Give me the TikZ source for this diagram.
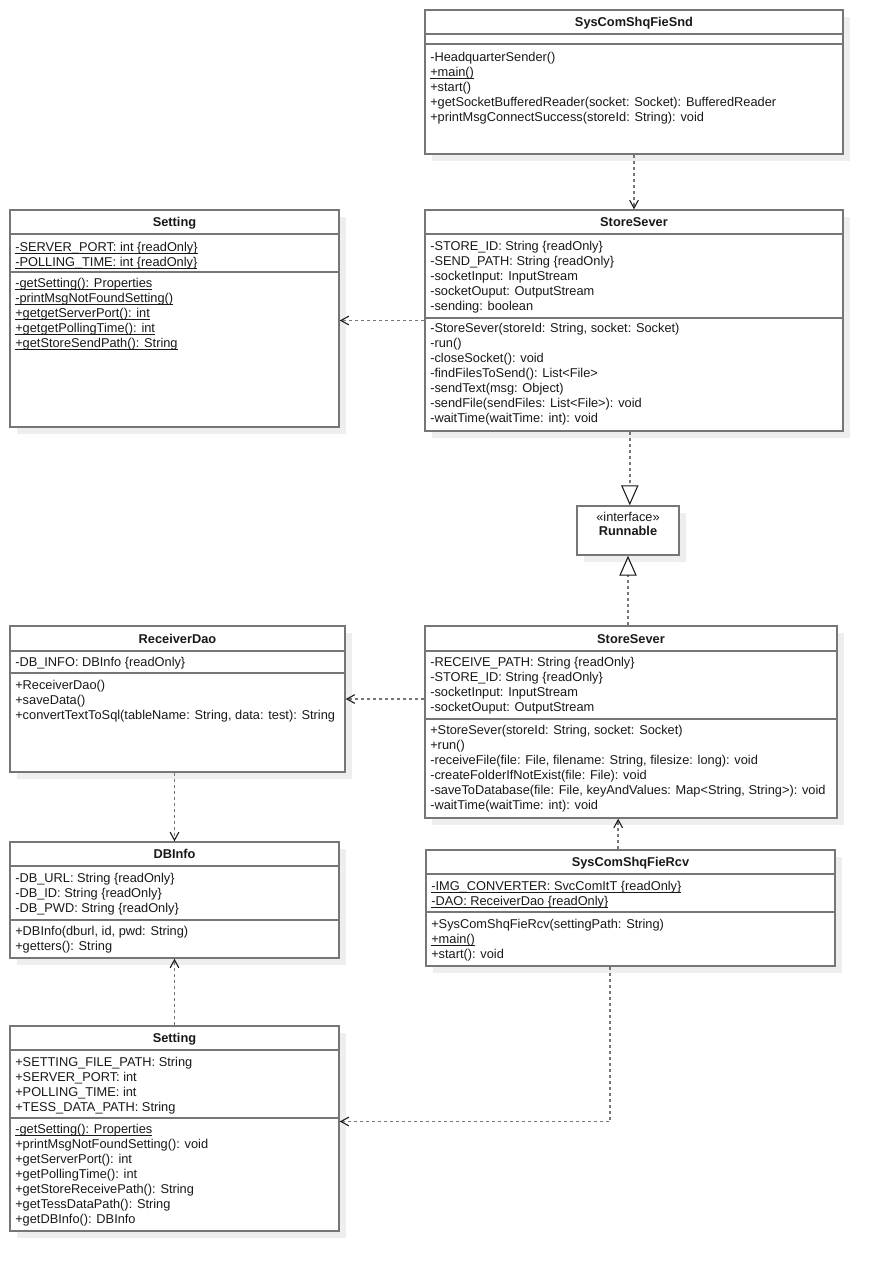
\documentclass[tikz,border=0pt]{standalone}
\usepackage{fontspec}
\setmainfont{Liberation Sans}
\usetikzlibrary{arrows.meta,fit,shadows,calc}

\definecolor{boxgray}{RGB}{118,118,118}
\definecolor{txtgray}{RGB}{25,25,25}
\definecolor{shadegray}{RGB}{238,238,238}

% static members are underlined just below the baseline
\newcommand\ulstatic[1]{\setbox0\hbox{#1}\rlap{\rule[-1.6pt]{\wd0}{0.55pt}}\box0}

\tikzset{
  classbox/.style={draw=boxgray, line width=1.1pt, fill=white, inner sep=0pt,
    drop shadow={shadow xshift=5.25pt, shadow yshift=-5.25pt, fill=shadegray, opacity=1}},
  sepline/.style={draw=boxgray, line width=1.1pt},
  classname/.style={font=\fontsize{9.6}{11.25}\selectfont\bfseries, text=txtgray, anchor=base, inner sep=0pt},
  stereo/.style={font=\fontsize{9.6}{11.25}\selectfont, text=txtgray, anchor=base, inner sep=0pt},
  members/.style={font=\fontsize{9.6}{11.25}\selectfont, text=txtgray, anchor=north west, align=left, inner sep=0pt},
  dep/.style={draw=boxgray, line width=1.1pt, dash pattern=on 2.25pt off 2.25pt,
    -{Straight Barb[length=6pt,width=6.5pt,line width=0.8pt,color=txtgray]}},
  realize/.style={draw=boxgray, line width=1.1pt, dash pattern=on 2.25pt off 2.25pt,
    -{Triangle[open,length=15pt,width=13pt,line width=0.8pt,color=txtgray]}},
}

\begin{document}
\begin{tikzpicture}[x=0.75pt,y=-0.75pt]
        \useasboundingbox (0,0) rectangle (884,1272);

        % Sender side
        \node[classbox, fit={(425,10) (843,154)}] (snd) {};
        \draw[sepline] (snd.west |- 0,34) -- (snd.east |- 0,34);
        \draw[sepline] (snd.west |- 0,44) -- (snd.east |- 0,44);
        \node[classname] (snd-t) at (634,26.6) {SysComShqFieSnd};
        \node[members] (snd-m) at (430,52.2) {-HeadquarterSender()\\\ulstatic{+main()}\\+start()\\+getSocketBufferedReader(socket: Socket): BufferedReader\\+printMsgConnectSuccess(storeId: String): void};

        \node[classbox, fit={(10,210) (339,427)}] (setA) {};
        \draw[sepline] (setA.west |- 0,234) -- (setA.east |- 0,234);
        \draw[sepline] (setA.west |- 0,272) -- (setA.east |- 0,272);
        \node[classname] (setA-t) at (174.5,226.6) {Setting};
        \node[members] (setA-a) at (15,242.2) {\ulstatic{-SERVER\_PORT: int \{readOnly\}}\\\ulstatic{-POLLING\_TIME: int \{readOnly\}}};
        \node[members] (setA-m) at (15,278.2) {\ulstatic{-getSetting(): Properties}\\\ulstatic{-printMsgNotFoundSetting()}\\\ulstatic{+getgetServerPort(): int}\\\ulstatic{+getgetPollingTime(): int}\\\ulstatic{+getStoreSendPath(): String}};

        \node[classbox, fit={(425,210) (843,431)}] (ssA) {};
        \draw[sepline] (ssA.west |- 0,234) -- (ssA.east |- 0,234);
        \draw[sepline] (ssA.west |- 0,318) -- (ssA.east |- 0,318);
        \node[classname] (ssA-t) at (634,226.6) {StoreSever};
        \node[members] (ssA-a) at (430,241.2) {-STORE\_ID: String \{readOnly\}\\-SEND\_PATH: String \{readOnly\}\\-socketInput: InputStream\\-socketOuput: OutputStream\\-sending: boolean};
        \node[members] (ssA-m) at (430,323.2) {-StoreSever(storeId: String, socket: Socket)\\-run()\\-closeSocket(): void\\-findFilesToSend(): List<File>\\-sendText(msg: Object)\\-sendFile(sendFiles: List<File>): void\\-waitTime(waitTime: int): void};

        % Interface
        \node[classbox, fit={(577,506) (679,555)}] (run) {};
        \node[stereo] (run-s) at (628,521.6) {«interface»};
        \node[classname] (run-t) at (628,535.6) {Runnable};

        % Receiver side
        \node[classbox, fit={(10,626) (345,772)}] (dao) {};
        \draw[sepline] (dao.west |- 0,651) -- (dao.east |- 0,651);
        \draw[sepline] (dao.west |- 0,673) -- (dao.east |- 0,673);
        \node[classname] (dao-t) at (177.5,643.1) {ReceiverDao};
        \node[members] (dao-a) at (15,657.2) {-DB\_INFO: DBInfo \{readOnly\}};
        \node[members] (dao-m) at (15,680.2) {+ReceiverDao()\\+saveData()\\+convertTextToSql(tableName: String, data: test): String};

        \node[classbox, fit={(425,626) (837,818)}] (ssB) {};
        \draw[sepline] (ssB.west |- 0,651) -- (ssB.east |- 0,651);
        \draw[sepline] (ssB.west |- 0,719) -- (ssB.east |- 0,719);
        \node[classname] (ssB-t) at (631,643.1) {StoreSever};
        \node[members] (ssB-a) at (430,657.2) {-RECEIVE\_PATH: String \{readOnly\}\\-STORE\_ID: String \{readOnly\}\\-socketInput: InputStream\\-socketOuput: OutputStream};
        \node[members] (ssB-m) at (430,725.2) {+StoreSever(storeId: String, socket: Socket)\\+run()\\-receiveFile(file: File, filename: String, filesize: long): void\\-createFolderIfNotExist(file: File): void\\-saveToDatabase(file: File, keyAndValues: Map<String, String>): void\\-waitTime(waitTime: int): void};

        \node[classbox, fit={(10,842) (339,958)}] (dbinfo) {};
        \draw[sepline] (dbinfo.west |- 0,866) -- (dbinfo.east |- 0,866);
        \draw[sepline] (dbinfo.west |- 0,920) -- (dbinfo.east |- 0,920);
        \node[classname] (dbinfo-t) at (174.5,858.6) {DBInfo};
        \node[members] (dbinfo-a) at (15,873.2) {-DB\_URL: String \{readOnly\}\\-DB\_ID: String \{readOnly\}\\-DB\_PWD: String \{readOnly\}};
        \node[members] (dbinfo-m) at (15,926.2) {+DBInfo(dburl, id, pwd: String)\\+getters(): String};

        \node[classbox, fit={(426,850) (835,966)}] (rcv) {};
        \draw[sepline] (rcv.west |- 0,874) -- (rcv.east |- 0,874);
        \draw[sepline] (rcv.west |- 0,912) -- (rcv.east |- 0,912);
        \node[classname] (rcv-t) at (630.5,866.6) {SysComShqFieRcv};
        \node[members] (rcv-a) at (431,881.2) {\ulstatic{-IMG\_CONVERTER: SvcComItT \{readOnly\}}\\\ulstatic{-DAO: ReceiverDao \{readOnly\}}};
        \node[members] (rcv-m) at (431,919.2) {+SysComShqFieRcv(settingPath: String)\\\ulstatic{+main()}\\+start(): void};

        \node[classbox, fit={(10,1026) (339,1231)}] (setB) {};
        \draw[sepline] (setB.west |- 0,1050) -- (setB.east |- 0,1050);
        \draw[sepline] (setB.west |- 0,1118) -- (setB.east |- 0,1118);
        \node[classname] (setB-t) at (174.5,1042.6) {Setting};
        \node[members] (setB-a) at (15,1057.2) {+SETTING\_FILE\_PATH: String\\+SERVER\_PORT: int\\+POLLING\_TIME: int\\+TESS\_DATA\_PATH: String};
        \node[members] (setB-m) at (15,1124.2) {\ulstatic{-getSetting(): Properties}\\+printMsgNotFoundSetting(): void\\+getServerPort(): int\\+getPollingTime(): int\\+getStoreReceivePath(): String\\+getTessDataPath(): String\\+getDBInfo(): DBInfo};

        % Dependencies and realizations
        \coordinate (ssAbot) at ($(ssA.south west)!0.49!(ssA.south east)$);
        \coordinate (rcvtop) at ($(rcv.north west)!0.47!(rcv.north east)$);
        \coordinate (rcvbot) at ($(rcv.south west)!0.45!(rcv.south east)$);
        \coordinate (setBin) at ($(setB.north east)!0.466!(setB.south east)$);
        \draw[dep] (snd.south) -- (ssA.north);
        \draw[dep] (ssA.west) -- (ssA.west -| setA.east);
        \draw[realize] (ssAbot) -- (ssAbot |- run.north);
        \draw[realize] (ssB.north -| run.south) -- (run.south);
        \draw[dep] (ssB.west |- dao.east) -- (dao.east);
        \draw[dep] (dao.south -| dbinfo.north) -- (dbinfo.north);
        \draw[dep] (setB.north) -- (dbinfo.south);
        \draw[dep] (rcvtop) -- (rcvtop |- ssB.south);
        \draw[dep] (rcvbot) |- (setBin);
\end{tikzpicture}
\end{document}
